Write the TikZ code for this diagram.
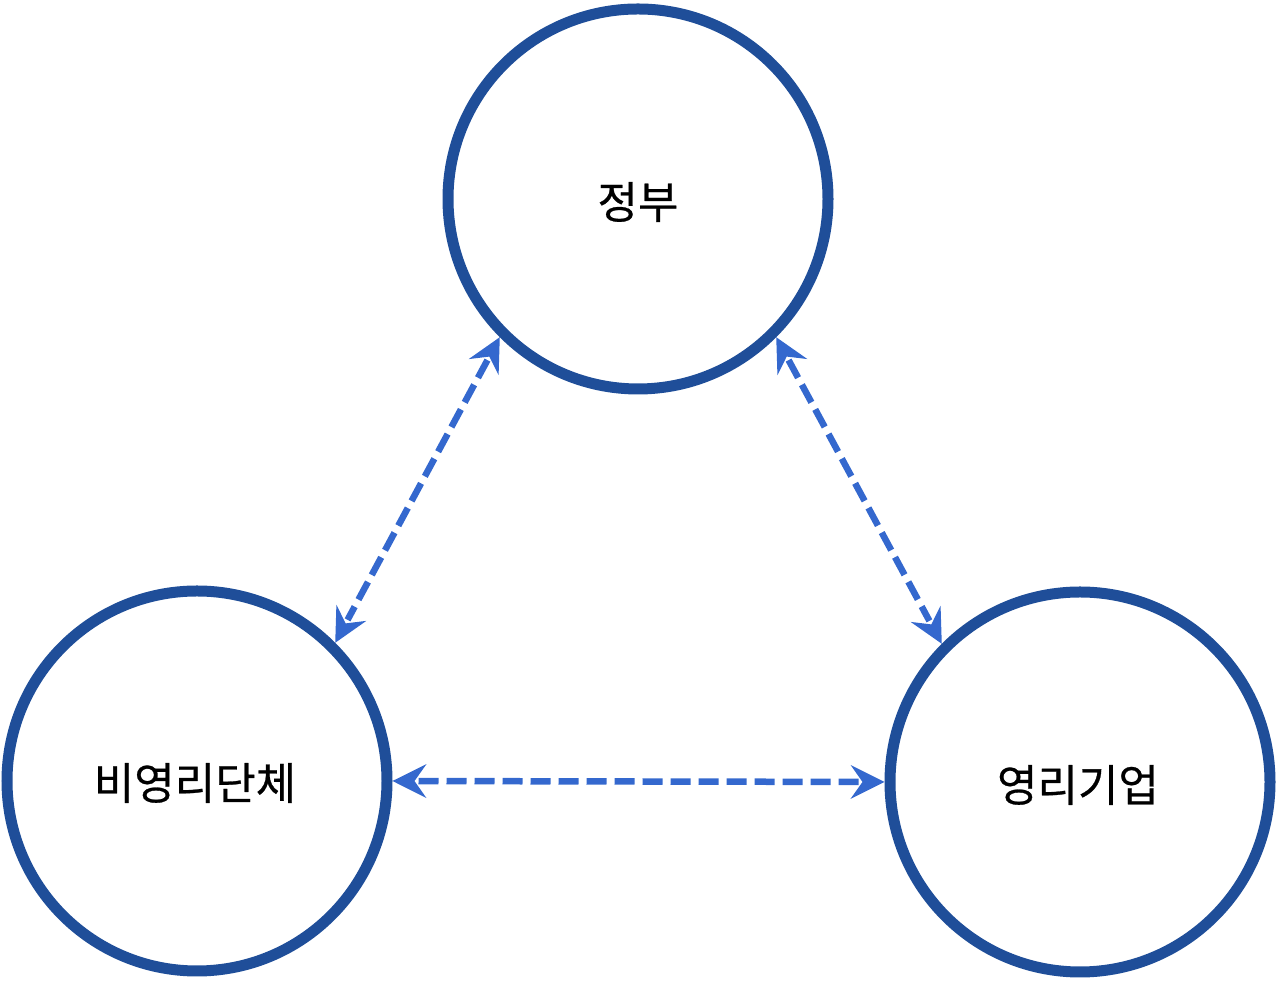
\documentclass[tikz,border=0pt]{standalone}
\usepackage{fontspec}
\newfontfamily\kr[FakeBold=0.6]{Noto Sans CJK KR}
\usetikzlibrary{calc}
\definecolor{ringblue}{RGB}{31,78,153}
\definecolor{arrowblue}{RGB}{52,104,206}
\tikzset{
  ring/.style={circle, draw=ringblue, line width=11pt, minimum size=380pt, inner sep=0pt},
  label/.style={font=\kr\fontsize{44}{52}\selectfont},
  link/.style={draw=arrowblue, line width=6.5pt, dash pattern=on 20pt off 8pt, shorten <=26pt, shorten >=26pt},
  headfill/.style={fill=arrowblue}
}
\newcommand\myhead[2]{%
  \fill[headfill] (#1) -- ($($(#1)!34pt!(#2)$)!17pt!90:(#1)$) -- ($(#1)!22pt!(#2)$) -- ($($(#1)!34pt!(#2)$)!17pt!-90:(#1)$) -- cycle;}
\newcommand\mylink[2]{%
  \draw[link] (#1) -- (#2);
  \myhead{#1}{#2}\myhead{#2}{#1}}
\begin{document}
\begin{tikzpicture}[x=1pt,y=1pt]
\useasboundingbox (0,0) rectangle (1280,981);
\node[ring] (gov) at (638,782) {};
\node[ring] (npo) at (197,200) {};
\node[ring] (biz) at (1080,199) {};
\node[label] (govt) at (638,779) {정부};
\node[label] (npot) at (195,198) {비영리단체};
\node[label] (bizt) at (1078,196) {영리기업};
\mylink{gov.225}{npo.45}
\mylink{gov.-45}{biz.135}
\mylink{npo.0}{biz.180}
\end{tikzpicture}
\end{document}
